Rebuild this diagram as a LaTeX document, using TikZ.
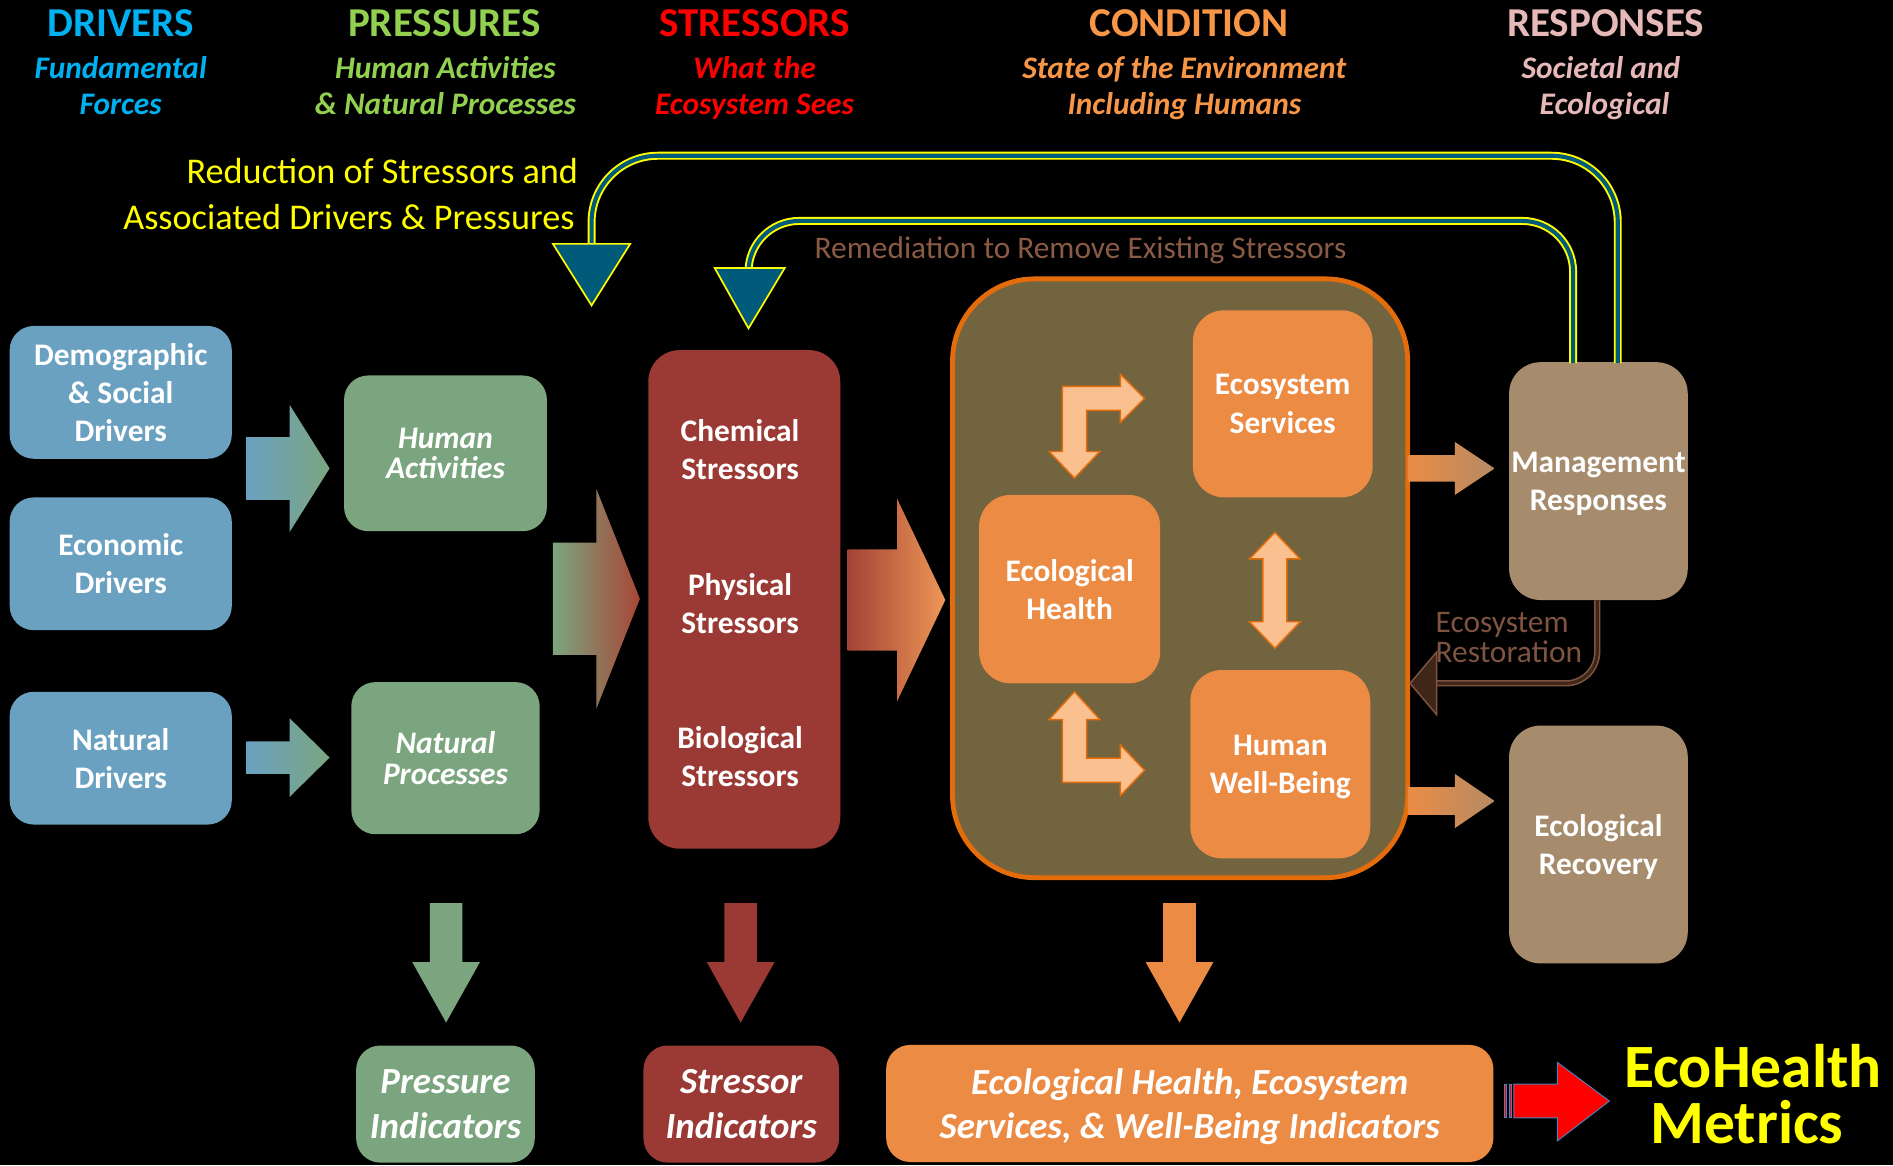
\documentclass[tikz,border=0pt]{standalone}
\usepackage{fontspec}
\setmainfont{Carlito}
\usetikzlibrary{calc}
\definecolor{cDrv}{HTML}{00B0F0}
\definecolor{cPrs}{HTML}{92D050}
\definecolor{cStr}{HTML}{FF0000}
\definecolor{cCnd}{HTML}{F79646}
\definecolor{cRsp}{HTML}{E6B9B8}
\definecolor{bBlue}{HTML}{6AA1C1}
\definecolor{bGreen}{HTML}{7BA57F}
\definecolor{bRed}{HTML}{9B3A34}
\definecolor{bOrange}{HTML}{EC8B44}
\definecolor{bTan}{HTML}{A68B6D}
\definecolor{cndBg}{HTML}{736440}
\definecolor{cndEdge}{HTML}{E46C0A}
\definecolor{peach}{HTML}{FAC090}
\definecolor{fbTeal}{HTML}{005A7A}
\definecolor{fbYellow}{HTML}{FFFF00}
\definecolor{remBrown}{HTML}{8B5A44}
\definecolor{resBrown}{HTML}{7E5441}
\definecolor{resDark}{HTML}{3F2619}
\definecolor{arrBlue}{HTML}{4F81BD}
\newcommand\fsz[2]{\fontsize{#1}{#2}\selectfont}
% right block arrow: x0 x1 x2 yc shaft-half head-half options
\newcommand\rblock[7]{\path[#7] (#1,#4-#5) -- (#2,#4-#5) -- (#2,#4-#6) -- (#3,#4) -- (#2,#4+#6) -- (#2,#4+#5) -- (#1,#4+#5) -- cycle;}
% down block arrow: xc ytop yneck ytip shaft-half head-half options
\newcommand\dblock[7]{\path[#7] (#1-#5,#2) -- (#1+#5,#2) -- (#1+#5,#3) -- (#1+#6,#3) -- (#1,#4) -- (#1-#6,#3) -- (#1-#5,#3) -- cycle;}
\tikzset{
  hdr/.style={font=\bfseries\fsz{34}{40}, inner sep=0pt},
  subhdr/.style={font=\bfseries\itshape\fsz{26}{31}, inner sep=0pt},
  rbox/.style={rectangle, rounded corners=20pt, inner sep=0pt, text=white, align=center, text depth=0pt, font=\bfseries\fsz{26}{31.5}},
  ibox/.style={rectangle, rounded corners=20pt, inner sep=0pt, text=white, align=center, font=\bfseries\itshape\fsz{26}{25}},
  indbox/.style={rectangle, rounded corners=20pt, inner sep=0pt, text=white, align=center, text depth=0pt, font=\bfseries\itshape\fsz{30.5}{37}},
  btext/.style={text=white, align=center, font=\bfseries\fsz{26}{31.5}, inner sep=0pt},
  fbline/.style={draw=fbYellow, line width=1.6pt, double=fbTeal, double distance=3.4pt},
  fbhead/.style={fill=fbTeal, draw=fbYellow, line width=1.4pt, line join=miter},
  bent/.style={fill=peach, draw=cndEdge, line width=1.2pt, line join=miter},
  yelltxt/.style={text=fbYellow, font=\fsz{30}{37}, inner sep=0pt},
  browntxt/.style={text=remBrown, font=\fsz{26}{25}, inner sep=0pt},
  metric/.style={text=fbYellow, font=\bfseries\fsz{51}{46}, inner sep=0pt},
}
\begin{document}
\begin{tikzpicture}[x=1pt,y=-1pt]
\useasboundingbox (0,0) rectangle (1568,965);
\fill[black] (0,0) rectangle (1568,965);
\clip (0,0) rectangle (1568,965);

% ---------- headers ----------
\node[hdr, text=cDrv, anchor=base] (hD) at (100,30.5) {DRIVERS};
\node[subhdr, text=cDrv, anchor=base] (hD1) at (100,65) {Fundamental};
\node[subhdr, text=cDrv, anchor=base] (hD2) at (100,95) {Forces};
\node[hdr, text=cPrs, anchor=base] (hP) at (368,30.5) {PRESSURES};
\node[subhdr, text=cPrs, anchor=base] (hP1) at (369,65) {Human Activities};
\node[subhdr, text=cPrs, anchor=base] (hP2) at (369,95) {\& Natural Processes};
\node[hdr, text=cStr, anchor=base] (hS) at (625,30.5) {STRESSORS};
\node[subhdr, text=cStr, anchor=base] (hS1) at (625,65) {What the};
\node[subhdr, text=cStr, anchor=base] (hS2) at (625,95) {Ecosystem Sees};
\node[hdr, text=cCnd, anchor=base] (hC) at (985,30.5) {CONDITION};
\node[subhdr, text=cCnd, anchor=base] (hC1) at (981,65) {State of the Environment};
\node[subhdr, text=cCnd, anchor=base] (hC2) at (981,95) {Including Humans};
\node[hdr, text=cRsp, anchor=base] (hR) at (1330,30.5) {RESPONSES};
\node[subhdr, text=cRsp, anchor=base] (hR1) at (1326,65) {Societal and};
\node[subhdr, text=cRsp, anchor=base] (hR2) at (1329,95) {Ecological};

% ---------- feedback labels ----------
\node[yelltxt, anchor=base east] (red1) at (479,152) {Reduction of Stressors and};
\node[yelltxt, anchor=base east] (red2) at (476,190) {Associated Drivers \& Pressures};
\node[browntxt, anchor=base] (rem) at (895,214) {Remediation to Remove Existing Stressors};

% ---------- drivers ----------
\node[rbox, fill=bBlue, minimum width=184pt, minimum height=110pt] (dem) at (100,325) {Demographic\\\& Social\\Drivers};
\node[rbox, fill=bBlue, minimum width=184pt, minimum height=110pt] (eco) at (100,467) {Economic\\Drivers};
\node[rbox, fill=bBlue, minimum width=184pt, minimum height=110pt] (nat) at (100,628) {Natural\\Drivers};

% ---------- pressures ----------
\node[ibox, fill=bGreen, minimum width=168pt, minimum height=129pt] (hum) at (369,375.5) {Human\\Activities};
\node[ibox, fill=bGreen, minimum width=156pt, minimum height=126pt] (natp) at (369,628) {Natural\\Processes};

% ---------- stressors ----------
\node[rectangle, rounded corners=26pt, fill=bRed, minimum width=159pt, minimum height=413pt, inner sep=0pt] (str) at (616.5,496.5) {};
\node[btext] (chem) at (613,372.5) {Chemical\\Stressors};
\node[btext] (phys) at (613,500) {Physical\\Stressors};
\node[btext] (bio) at (613,627) {Biological\\Stressors};

% ---------- condition ----------
\node[rectangle, rounded corners=68pt, fill=cndBg, draw=cndEdge, line width=4pt, minimum width=377pt, minimum height=496pt, inner sep=0pt] (cond) at (977.5,479) {};
\node[rbox, rounded corners=26pt, fill=bOrange, minimum width=149pt, minimum height=155pt] (ess) at (1062.5,334.5) {Ecosystem\\Services};
\node[rbox, rounded corners=26pt, fill=bOrange, minimum width=150pt, minimum height=156pt] (eh) at (886,488) {Ecological\\Health};
\node[rbox, rounded corners=26pt, fill=bOrange, minimum width=149pt, minimum height=156pt] (hwb) at (1060.5,633) {Human\\Well-Being};

% inner bent / double arrows
\path[bent] (880,320) -- (928,320) -- (928,310) -- (948,330) -- (928,350) -- (928,340) -- (900,340) -- (900,374) -- (911,374) -- (890,396) -- (869,374) -- (880,374) -- cycle;
\path[bent] (890,573) -- (911,596) -- (900,596) -- (900,628) -- (928,628) -- (928,617) -- (948,638) -- (928,659) -- (928,648) -- (880,648) -- (880,596) -- (869,596) -- cycle;
\path[bent] (1046,463) -- (1046,515) -- (1035,515) -- (1056,537) -- (1077,515) -- (1066,515) -- (1066,463) -- (1077,463) -- (1056,441) -- (1035,463) -- cycle;

% ---------- responses ----------
\node[rbox, rounded corners=26pt, fill=bTan, minimum width=148pt, minimum height=197pt] (mgmt) at (1324,398.5) {Management\\Responses};
\node[rbox, rounded corners=26pt, fill=bTan, minimum width=148pt, minimum height=197pt] (rec) at (1324,699.5) {Ecological\\Recovery};

% ---------- indicators ----------
\node[indbox, fill=bGreen, minimum width=148pt, minimum height=97pt] (pind) at (369,914.5) {Pressure\\Indicators};
\node[indbox, fill=bRed, minimum width=162pt, minimum height=97pt] (sind) at (614,914.5) {Stressor\\Indicators};
\node[indbox, fill=bOrange, minimum width=503pt, minimum height=97pt] (cind) at (985.5,914) {Ecological Health, Ecosystem\\Services, \& Well-Being Indicators};

\node[metric, anchor=base] (ehm1) at (1452,901) {EcoHealth};
\node[metric, anchor=base] (ehm2) at (1447,947) {Metrics};

% ---------- block arrows ----------
\rblock{204}{240}{273}{388}{26}{52.5}{left color=bBlue, right color=bGreen}
\rblock{204}{240}{273}{627.5}{13.5}{32.5}{left color=bBlue, right color=bGreen}
\rblock{458}{494}{530}{496}{46.5}{91}{left color=bGreen, right color=bRed!85!bOrange}
\rblock{702}{743}{783}{497}{42}{84}{left color=bRed!90!bOrange, right color=bOrange!90!white}
\rblock{1166}{1205}{1238}{388}{11}{22}{left color=bOrange, right color=bTan!80!bOrange}
\rblock{1166}{1205}{1238}{663.5}{11.5}{22.5}{left color=bOrange, right color=bTan!80!bOrange}

\dblock{369.5}{748}{797}{847}{13.5}{28}{fill=bGreen}
\dblock{613.5}{748}{797}{847}{13.5}{28}{fill=bRed}
\dblock{977}{748}{797}{847}{13.5}{28}{fill=bOrange}

% EcoHealth red arrow
\path[fill=red, draw=arrBlue, line width=0.8pt] (1246,898) rectangle (1248,926);
\path[fill=red, draw=arrBlue, line width=0.8pt] (1250,898) rectangle (1252,926);
\path[fill=red, draw=arrBlue, line width=0.8pt, line join=miter] (1254,898) -- (1290,898) -- (1290,880) -- (1333,912) -- (1290,945) -- (1290,926) -- (1254,926) -- cycle;

% ---------- feedback connectors ----------
\coordinate (fbo) at ($(mgmt.north)+(16,1)$);
\coordinate (fbi) at ($(mgmt.north)+(-21,1)$);
\coordinate (tipo) at (490,253);
\coordinate (tipi) at (620,272);
\draw[fbline, rounded corners=55pt] (fbo) -- (1340,129) -- (490,129) -- (490,203);
\path[fbhead] (458,202) -- (522,202) -- (tipo) -- cycle;
\draw[fbline, rounded corners=42pt] (fbi) -- (1303,183) -- (620,183) -- (620,223);
\path[fbhead] (592,222) -- (650,222) -- (tipi) -- cycle;

% ecosystem restoration
\coordinate (rs) at ($(mgmt.south)+(-1,0)$);
\draw[draw=resBrown, line width=1.3pt, double=resDark, double distance=2.6pt, rounded corners=26pt] (rs) -- (1323,566) -- (1189,566);
\path[fill=resDark, draw=resBrown, line width=1.2pt, line join=miter] (1190,540) -- (1190,592) -- (cond.east |- 0,566) -- cycle;
\node[browntxt, text=resBrown, anchor=base west] (er1) at (1189,523.5) {Ecosystem};
\node[browntxt, text=resBrown, anchor=base west] (er2) at (1189,548.5) {Restoration};
\end{tikzpicture}
\end{document}
